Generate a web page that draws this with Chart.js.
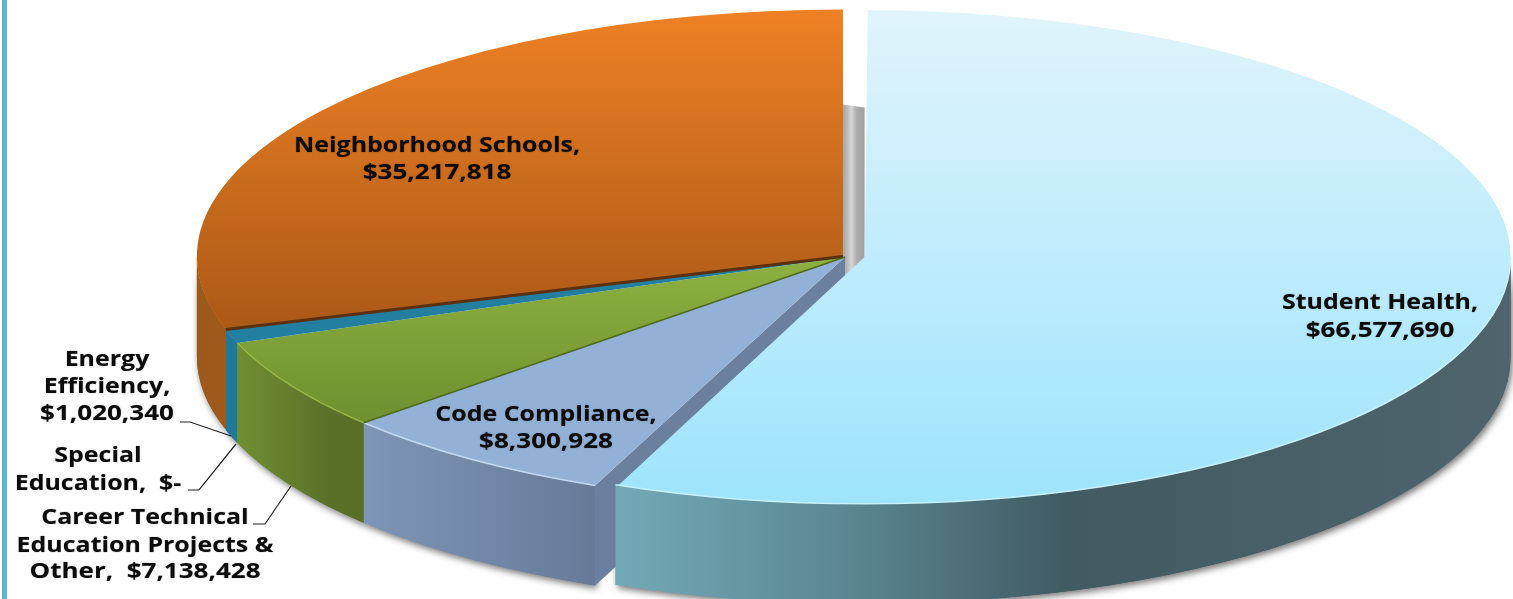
<!DOCTYPE html>
<html><head><meta charset="utf-8">
<script src="https://cdn.jsdelivr.net/npm/chart.js@4"></script>
<style>html,body{margin:0;padding:0;background:#fff;overflow:hidden}
#stripe{position:absolute;left:2px;top:0;width:5px;height:599px;background:#58B6D4}
canvas{position:absolute;left:0;top:0}</style></head>
<body><canvas id="c" width="1513" height="599"></canvas><div id="stripe"></div>
<script>
const categories = ['Student Health','Code Compliance','Career Technical Education Projects & Other','Special Education','Energy Efficiency','Neighborhood Schools'];
const amounts = [66577690,8300928,7138428,0,1020340,35217818];
const explode = [80,0,0,0,0,10];

const SQUASH=0.382, DEPTH=100, CX=845, CY=257, R=648, R_STUDENT=646, TEXT_STRETCH=1.16, NUMBER_STRETCH=1.21;
const canvas=document.getElementById('c'), g=canvas.getContext('2d');
function vgrad(y0,y1,c0,c1){const l=g.createLinearGradient(0,CY+(y0-CY)/SQUASH,0,CY+(y1-CY)/SQUASH);l.addColorStop(0,c0);l.addColorStop(1,c1);return l;}
function hgrad(x0,stops,x1){const l=g.createLinearGradient(x0,0,x1,0);stops.forEach(s=>l.addColorStop(s[0],s[1]));return l;}
const topFills=[vgrad(10,504,'#E0F4FB','#9DE4FD'),'#93B1D6',vgrad(258,440,'#8DB240','#6B8C2E'),'#1F7A99','#227F9F',vgrad(8,330,'#EE8124','#AB5917')];
const wallFills=[
 hgrad(617,[[0,'#73A9B6'],[.25,'#5B8894'],[.5,'#415B63'],[1,'#4F646C']],1511),
 hgrad(367,[[0,'#7D95B6'],[1,'#667A98']],600),
 hgrad(236,[[0,'#728F32'],[.7,'#5A7228'],[1,'#576E25']],365),
 '#1F7A99','#1F7A99',
 hgrad(197,[[0,'#9C5A1D'],[1,'#A25818']],236)];
const edgeLights=[ '#C6F1FF','#C4D8F2','#96B648',null,null,null ];

const labelBlocks=[
 {lines:['Neighborhood Schools,','$35,217,818'],x:437,y:[146,173]},
 {lines:['Student Health,','$66,577,690'],x:1380,y:[303,331]},
 {lines:['Code Compliance,','$8,300,928'],x:546,y:[415,442]},
 {lines:['Energy','Efficiency,','$1,020,340'],x:107,y:[360,387,414]},
 {lines:['Special','Education,  $-'],x:98,y:[456,484]},
 {lines:['Career Technical','Education Projects &','Other,  $7,138,428'],x:145,y:[518,546,572]}];
const leaders=[[[180,422],[190,422],[231,436]],[[188,490],[199,490],[236,444]],[[253,524],[265,524],[291,486]]];

function geom(a){
 const off=(a.options.offset||0)/4, mid=(a.startAngle+a.endAngle)/2;
 const fix=1-Math.sin(Math.min(Math.PI,a.circumference||0));
 return {x:a.x+Math.cos(mid)*off,y:CY+(a.y-CY+Math.sin(mid)*off)*SQUASH,r:a.outerRadius+off*fix,a0:a.startAngle,a1:a.endAngle};
}
function wall(G,fill,shadow){
 const s=Math.max(G.a0,0), e=Math.min(G.a1,Math.PI);
 if(e<=s) return;
 g.save();
 if(shadow){g.shadowColor='rgba(0,0,0,.55)';g.shadowBlur=7;g.shadowOffsetX=2;g.shadowOffsetY=3;}
 g.beginPath();
 g.ellipse(G.x,G.y,G.r,G.r*SQUASH,0,s,e,false);
 g.ellipse(G.x,G.y+DEPTH,G.r,G.r*SQUASH,0,e,s,true);
 g.closePath();g.fillStyle=fill;g.fill();g.restore();
}
const pie3d={
 id:'pie3d',
 afterDatasetsUpdate(chart){
  const arcs=chart.getDatasetMeta(0).data;
  arcs[0].outerRadius=R_STUDENT-explode[0]/4;
  arcs[0].y-=1.5/SQUASH;
  arcs[5].outerRadius-=2;
 },
 beforeDatasetDraw(chart){
  const arcs=chart.getDatasetMeta(0).data, G=arcs.map(geom), ctx=chart.ctx;
  // grey back wall seen through the gap
  const rest=G[1], st=G[0], topY=rest.y-rest.r*SQUASH+DEPTH-5;
  ctx.save();
  ctx.beginPath();ctx.moveTo(rest.x-2,topY);ctx.lineTo(st.x,topY+3);ctx.lineTo(st.x,st.y);ctx.lineTo(rest.x-2,rest.y+40);ctx.closePath();
  ctx.fillStyle=hgrad(rest.x-2,[[0,'#A8A8A8'],[.15,'#B4B4B4'],[.4,'#D6D6D6'],[.6,'#B0B0B0'],[.7,'#ABABAB'],[1,'#A0A0A0']],st.x);
  ctx.fill();ctx.restore();
  // outer walls with soft shadow first
  [5,4,2,1,0].forEach(i=>wall(G[i],wallFills[i],true));
  [5,4,2,1].forEach(i=>wall(G[i],wallFills[i],false));
  // cut face of Code Compliance seen through the gap
  const b=G[1], ex=b.x+Math.cos(b.a0)*b.r, ey=b.y+Math.sin(b.a0)*b.r*SQUASH;
  ctx.beginPath();ctx.moveTo(b.x,b.y);ctx.lineTo(ex,ey);ctx.lineTo(ex,ey+DEPTH);ctx.lineTo(b.x,b.y+DEPTH);ctx.closePath();
  ctx.fillStyle='#6B7F9E';ctx.fill();
  wall(G[0],wallFills[0],false);
  ctx.save();ctx.translate(CX,CY);ctx.scale(1,SQUASH);ctx.translate(-CX,-CY);
 },
 afterDatasetDraw(chart){
  const ctx=chart.ctx;ctx.restore();
  const arcs=chart.getDatasetMeta(0).data, G=arcs.map(geom);
  // light rims on the front edges
  G.forEach((A,i)=>{ if(!edgeLights[i])return;
   ctx.save();ctx.beginPath();ctx.ellipse(A.x,A.y,A.r,A.r*SQUASH,0,Math.max(A.a0,0),Math.min(A.a1,Math.PI));
   ctx.strokeStyle=edgeLights[i];ctx.lineWidth=1.5;ctx.stroke();ctx.restore();});
  // dark seams
  const seam=(A,ang,col,w)=>{ctx.save();ctx.beginPath();ctx.moveTo(A.x,A.y);ctx.lineTo(A.x+Math.cos(ang)*A.r,A.y+Math.sin(ang)*A.r*SQUASH);ctx.strokeStyle=col;ctx.lineWidth=w;ctx.stroke();ctx.restore();};
  seam(G[5],G[5].a0,'#5B300F',3);
  seam(G[2],G[2].a0,'#4E6A1D',1.5);
  // leaders
  ctx.save();ctx.strokeStyle='#222';ctx.lineWidth=1.2;
  leaders.forEach(p=>{ctx.beginPath();p.forEach((q,i)=>i?ctx.lineTo(q[0],q[1]):ctx.moveTo(q[0],q[1]));ctx.stroke();});
  // labels
  ctx.fillStyle='#0b0b0b';ctx.textAlign='center';ctx.textBaseline='middle';ctx.font='700 21.5px "Open Sans"';
  ctx.shadowColor='rgba(0,0,0,.35)';ctx.shadowBlur=1.5;
  labelBlocks.forEach(b=>b.lines.forEach((t,i)=>{
   ctx.save();ctx.translate(b.x,b.y[i]);ctx.scale(/\d{3}/.test(t)?NUMBER_STRETCH:TEXT_STRETCH,1);ctx.fillText(t,0,0);ctx.restore();}));
  ctx.restore();
 }
};
new Chart(g,{type:'pie',
 data:{labels:categories,datasets:[{data:amounts,backgroundColor:topFills,borderWidth:0,offset:explode,radius:R,clip:false}]},
 options:{responsive:false,animation:false,devicePixelRatio:1,radius:R,
  layout:{padding:{left:177,bottom:85}},
  plugins:{legend:{display:false},tooltip:{enabled:false},title:{display:false}}},
 plugins:[pie3d]});
</script></body></html>
